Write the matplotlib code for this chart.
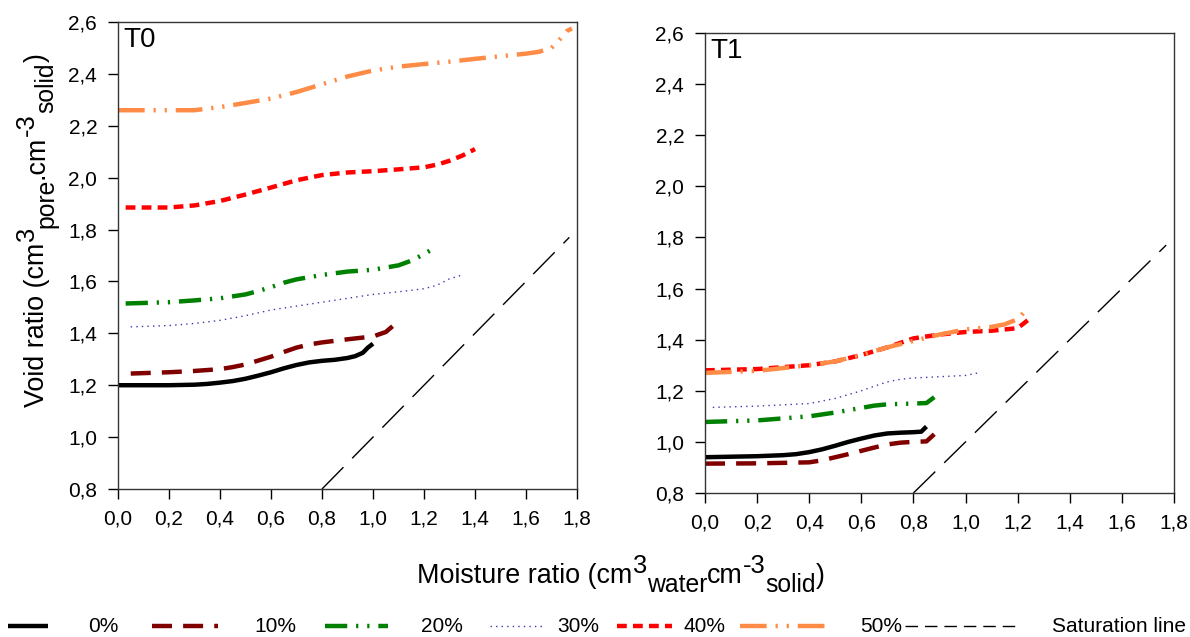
import numpy as np
import matplotlib
matplotlib.use("Agg")
import matplotlib.pyplot as plt
from matplotlib.lines import Line2D

plt.rcParams['font.family'] = ['Liberation Sans', 'DejaVu Sans']

# ---------- data ----------
series = ["0%", "10%", "20%", "30%", "40%", "50%"]

# T0
t0_x_0 = [0.0, 0.1, 0.2, 0.3, 0.35, 0.4, 0.45, 0.5, 0.55, 0.6, 0.65, 0.7, 0.75, 0.8, 0.85, 0.9, 0.93, 0.96, 0.98, 1.0]
t0_y_0 = [1.20, 1.20, 1.20, 1.202, 1.205, 1.21, 1.216, 1.225, 1.237, 1.25, 1.265, 1.278, 1.288, 1.294, 1.298, 1.305, 1.312, 1.325, 1.345, 1.36]
t0_x_10 = [0.05, 0.2, 0.3, 0.4, 0.45, 0.5, 0.55, 0.6, 0.65, 0.7, 0.75, 0.8, 0.9, 1.0, 1.05, 1.08, 1.1]
t0_y_10 = [1.245, 1.25, 1.255, 1.262, 1.27, 1.28, 1.295, 1.31, 1.328, 1.345, 1.357, 1.365, 1.377, 1.388, 1.405, 1.43, 1.46]
t0_x_20 = [0.03, 0.2, 0.3, 0.4, 0.5, 0.55, 0.6, 0.65, 0.7, 0.8, 0.9, 1.0, 1.1, 1.15, 1.2, 1.25]
t0_y_20 = [1.515, 1.52, 1.527, 1.535, 1.55, 1.563, 1.578, 1.595, 1.608, 1.625, 1.638, 1.645, 1.662, 1.68, 1.705, 1.735]
t0_x_30 = [0.05, 0.2, 0.3, 0.4, 0.5, 0.6, 0.7, 0.8, 0.9, 1.0, 1.1, 1.2, 1.25, 1.3, 1.35]
t0_y_30 = [1.425, 1.43, 1.438, 1.45, 1.468, 1.49, 1.505, 1.52, 1.535, 1.55, 1.56, 1.572, 1.585, 1.61, 1.625]
t0_x_40 = [0.03, 0.2, 0.3, 0.4, 0.5, 0.6, 0.7, 0.8, 0.9, 1.0, 1.1, 1.2, 1.25, 1.3, 1.35, 1.4]
t0_y_40 = [1.885, 1.885, 1.893, 1.91, 1.935, 1.962, 1.99, 2.01, 2.02, 2.025, 2.032, 2.04, 2.05, 2.065, 2.085, 2.11]
t0_x_50 = [0.0, 0.2, 0.3, 0.4, 0.5, 0.6, 0.7, 0.8, 0.9, 1.0, 1.1, 1.2, 1.3, 1.4, 1.5, 1.6, 1.65, 1.7, 1.73, 1.76, 1.78]
t0_y_50 = [2.26, 2.26, 2.26, 2.272, 2.288, 2.305, 2.33, 2.36, 2.39, 2.413, 2.428, 2.438, 2.447, 2.458, 2.468, 2.478, 2.485, 2.50, 2.53, 2.565, 2.575]

# T1
t1_x_0 = [0.0, 0.2, 0.3, 0.35, 0.4, 0.45, 0.5, 0.55, 0.6, 0.65, 0.7, 0.75, 0.8, 0.83, 0.85]
t1_y_0 = [0.94, 0.944, 0.948, 0.952, 0.96, 0.971, 0.985, 1.0, 1.013, 1.025, 1.033, 1.036, 1.038, 1.04, 1.06]
t1_x_10 = [0.0, 0.2, 0.4, 0.45, 0.5, 0.55, 0.6, 0.65, 0.7, 0.75, 0.8, 0.85, 0.88]
t1_y_10 = [0.915, 0.916, 0.92, 0.928, 0.94, 0.952, 0.965, 0.978, 0.99, 0.997, 1.0, 1.002, 1.03]
t1_x_20 = [0.0, 0.2, 0.4, 0.5, 0.6, 0.65, 0.7, 0.8, 0.85, 0.88]
t1_y_20 = [1.078, 1.084, 1.10, 1.115, 1.133, 1.142, 1.147, 1.15, 1.152, 1.175]
t1_x_30 = [0.03, 0.2, 0.4, 0.5, 0.6, 0.65, 0.7, 0.75, 0.8, 0.9, 1.0, 1.05]
t1_y_30 = [1.135, 1.14, 1.15, 1.17, 1.20, 1.218, 1.235, 1.245, 1.25, 1.255, 1.26, 1.27]
t1_x_40 = [0.0, 0.2, 0.4, 0.5, 0.6, 0.7, 0.8, 0.9, 1.0, 1.1, 1.2, 1.25]
t1_y_40 = [1.28, 1.285, 1.30, 1.315, 1.34, 1.37, 1.405, 1.42, 1.43, 1.435, 1.445, 1.485]
t1_x_50 = [0.0, 0.2, 0.4, 0.5, 0.6, 0.7, 0.8, 0.9, 1.0, 1.1, 1.15, 1.2, 1.24]
t1_y_50 = [1.27, 1.278, 1.30, 1.315, 1.34, 1.37, 1.395, 1.42, 1.44, 1.45, 1.46, 1.48, 1.525]

# saturation line (e = w), drawn over the visible range
sat_x = [0.8, 1.77]
sat_y = [0.8, 1.77]

t0 = [(t0_x_0, t0_y_0), (t0_x_10, t0_y_10), (t0_x_20, t0_y_20),
      (t0_x_30, t0_y_30), (t0_x_40, t0_y_40), (t0_x_50, t0_y_50)]
t1 = [(t1_x_0, t1_y_0), (t1_x_10, t1_y_10), (t1_x_20, t1_y_20),
      (t1_x_30, t1_y_30), (t1_x_40, t1_y_40), (t1_x_50, t1_y_50)]

# ---------- styles ----------
styles = [
    dict(color='black', lw=3.2, ls='-'),
    dict(color='#800000', lw=3.2, dashes=(4.5, 2.5)),
    dict(color='#008000', lw=3.2, dashes=(5, 2, 0.5, 2, 0.5, 2)),
    dict(color='#3a3ab0', lw=1.0, dashes=(1, 3)),
    dict(color='#ff0000', lw=3.2, dashes=(2.2, 1.4)),
    dict(color='#ff8c46', lw=3.2, dashes=(6, 2, 0.5, 2, 0.5, 2)),
]
sat_style = dict(color='black', lw=1.0, dashes=(22, 9))

W, H = 1190.0, 637.0
fig = plt.figure(figsize=(11.9, 6.37), dpi=100)
ax0 = fig.add_axes([118 / W, 1 - 489 / H, 459 / W, 467 / H])
ax1 = fig.add_axes([705 / W, 1 - 493 / H, 469 / W, 460 / H])

for ax, data, tag in [(ax0, t0, "T0"), (ax1, t1, "T1")]:
    for (x, y), st in zip(data, styles):
        ax.plot(x, y, solid_capstyle='butt', dash_capstyle='butt', **st)
    ax.plot(sat_x, sat_y, **sat_style)
    ax.set_xlim(0, 1.8)
    ax.set_ylim(0.8, 2.6)
    xt = np.arange(0, 1.81, 0.2)
    yt = np.arange(0.8, 2.61, 0.2)
    ax.set_xticks(xt)
    ax.set_yticks(yt)
    ax.set_xticklabels([f"{v:.1f}".replace('.', ',') for v in xt])
    ax.set_yticklabels([f"{v:.1f}".replace('.', ',') for v in yt])
    ax.tick_params(direction='out', length=7, width=1, labelsize=15, pad=8)
    for s in ax.spines.values():
        s.set_linewidth(1.0)
        s.set_color('#333333')
    ax.text(0.012, 0.99, tag, transform=ax.transAxes, ha='left', va='top', fontsize=20)


# axis titles with large super/subscripts, laid out piece by piece
def rich_text(x0, y0, parts, vertical=False):
    r = fig.canvas.get_renderer()
    widths = []
    for s, size, dy in parts:
        t = fig.text(0, 0, s, fontsize=size)
        widths.append(t.get_window_extent(r).width)
        t.remove()
    pos = -sum(widths) / 2
    for (s, size, dy), w in zip(parts, widths):
        if vertical:
            px, py = x0 - dy, y0 + pos
        else:
            px, py = x0 + pos, y0 + dy
        fig.text(px / W, py / H, s, fontsize=size, ha='left', va='baseline',
                 rotation=90 if vertical else 0, rotation_mode='anchor')
        pos += w


xlab = [("Moisture ratio (cm", 19.4, 0), ("3", 18.4, 10), ("water", 17.8, -9),
        ("cm", 19.4, 0), ("-3", 18.4, 10), ("solid", 17.8, -9), (")", 19.4, 0)]
ylab = [("Void ratio (cm", 19.4, 0), ("3", 18.4, 10), ("pore", 17.8, -9),
        (".cm", 19.4, 0), ("-3", 18.4, 10), ("solid", 17.8, -9), (")", 19.4, 0)]
rich_text(621, H - 583, xlab)
rich_text(44, H - 230, ylab, vertical=True)

# legend drawn by hand to follow the original's uneven spacing
leg_y = 1 - 626 / H
key_spans = [(8, 48), (152, 218), (325, 388), (490, 542), (617, 672), (740, 826), (905, 1018)]
text_x = [88, 254, 421, 557, 683, 860, 1052]
labels = series + ["Saturation line"]
for (a, b), tx, lab, st in zip(key_spans, text_x, labels, styles + [dict(sat_style, dashes=(9, 5))]):
    fig.add_artist(Line2D([a / W, b / W], [leg_y, leg_y], transform=fig.transFigure,
                          solid_capstyle='butt', dash_capstyle='butt', **st))
    fig.text(tx / W, leg_y, lab, ha='left', va='center', fontsize=15)

fig.savefig("out.png", dpi=100)
